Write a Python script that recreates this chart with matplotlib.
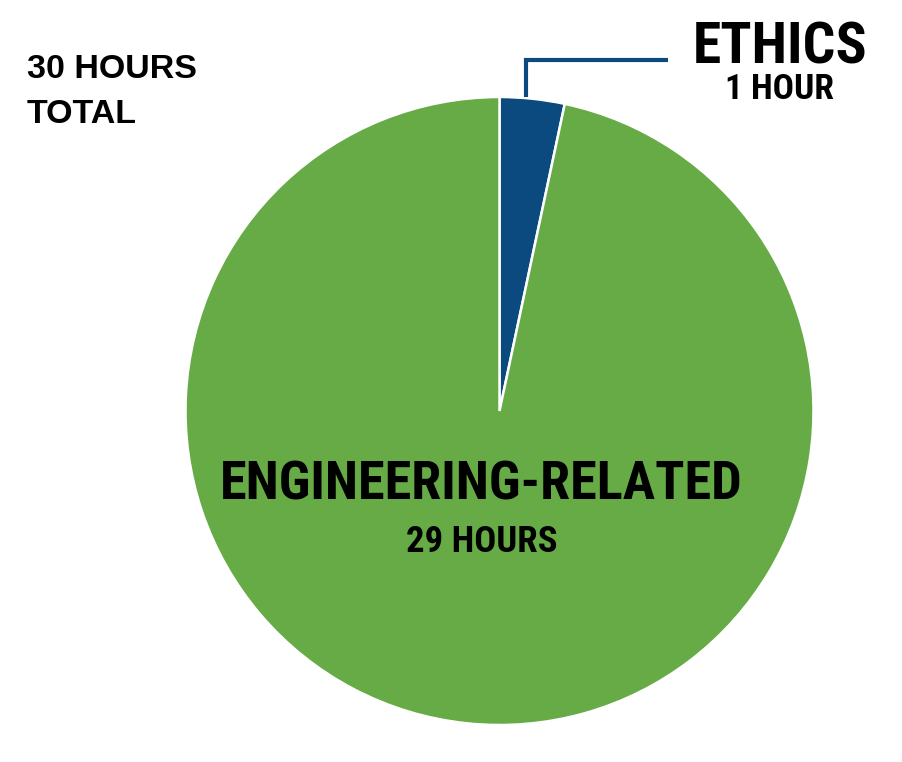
import matplotlib
matplotlib.use("Agg")
import matplotlib.pyplot as plt
from matplotlib import font_manager

cands = ['Roboto Condensed', 'Liberation Sans Narrow', 'DejaVu Sans']
names = {f.name for f in font_manager.fontManager.ttflist}
narrow = [c for c in cands if c in names] or ['DejaVu Sans']

categories = ["ETHICS", "ENGINEERING-RELATED"]
hours = [1, 29]
hour_labels = ["1 HOUR", "29 HOURS"]
total_lines = ["30 HOURS", "TOTAL"]
colors = ["#0B4A7F", "#66AB45"]

W, H = 903, 762
fig = plt.figure(figsize=(W / 100, H / 100), dpi=100)
ax = fig.add_axes([0, 0, 1, 1])

cx, cy, r = 499.5, H - 411, 314
ax.pie(hours, colors=colors, startangle=90, counterclock=False,
       center=(cx, cy), radius=r,
       wedgeprops=dict(edgecolor="white", linewidth=1.8))
ax.set_xlim(0, W)
ax.set_ylim(0, H)
ax.set_aspect("equal")
ax.axis("off")

ax.plot([526, 526, 668], [H - 97, H - 60, H - 60], color=colors[0], lw=3,
        solid_capstyle="butt", solid_joinstyle="miter")

kw = dict(family=narrow, fontstretch="condensed", fontweight="bold",
          color="black", ha="center", va="baseline")
ax.text(780, H - 63, categories[0], fontsize=41.5, **kw)
ax.text(779.5, H - 99, hour_labels[0], fontsize=25.5, **kw)
ax.text(481, H - 500, categories[1], fontsize=39, **kw)
ax.text(481.5, H - 552, hour_labels[1], fontsize=26.5, **kw)

ax.text(27, H - 78, total_lines[0], ha="left", va="baseline",
        fontsize=24.5, family="Liberation Sans", fontweight="bold", color="black")
ax.text(27, H - 123, total_lines[1], ha="left", va="baseline",
        fontsize=24.5, family="Liberation Sans", fontweight="bold", color="black")

fig.savefig("out.png", dpi=100, facecolor="white")
